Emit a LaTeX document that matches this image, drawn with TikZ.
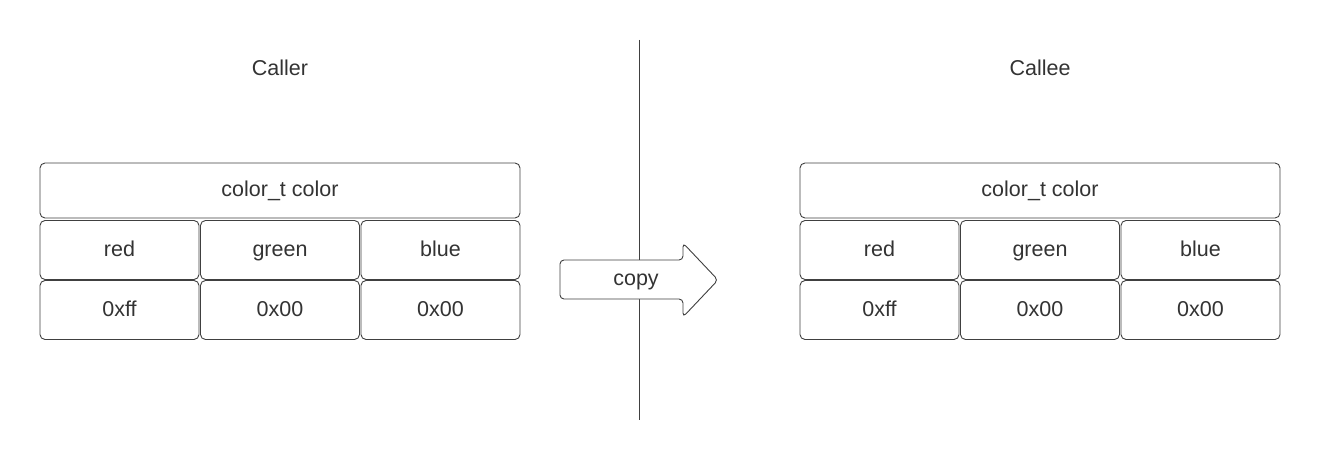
\documentclass[tikz,border=0pt]{standalone}
\usepackage{fontspec}
\setmainfont{Liberation Sans}
\begin{document}
\begin{tikzpicture}[x=1pt,y=-1pt,
  ln/.style={draw=black!75,line width=0.9pt},
  txt/.style={font=\fontsize{21.5}{26}\selectfont,text=black!80,text height=16pt,text depth=4pt},
  cell/.style={ln,txt,rounded corners=5pt,fill=white,inner sep=0pt},
  ttl/.style={txt,inner sep=0pt}]
\useasboundingbox (0,0) rectangle (1320,460);
\coordinate (ltop) at (639,40);
\coordinate (lbot) at (639,420);
\draw[ln] (ltop) -- (lbot);
% arrow
\draw[ln,fill=white,rounded corners=4pt] (560,260) -- (683,260) -- (683,243) -- (718,280) -- (683,317) -- (683,299) -- (560,299) -- cycle;
\node[ttl] (copy) at (636,279) {copy};
\node[ttl] (caller) at (280,70) {Caller};
\node[ttl] (callee) at (1040,70) {Callee};
\foreach \ox/\nm in {0/L,760/R}{
  \begin{scope}[xshift=\ox]
  \node[cell,minimum width=480,minimum height=55] (\nm top) at (280,190.5) {color\_t color};
  \node[cell,minimum width=159,minimum height=59] (\nm a) at (119.5,250) {red};
  \node[cell,minimum width=159,minimum height=59] (\nm b) at (280,250) {green};
  \node[cell,minimum width=159,minimum height=59] (\nm c) at (440.5,250) {blue};
  \node[cell,minimum width=159,minimum height=59] (\nm d) at (119.5,310) {0xff};
  \node[cell,minimum width=159,minimum height=59] (\nm e) at (280,310) {0x00};
  \node[cell,minimum width=159,minimum height=59] (\nm f) at (440.5,310) {0x00};
  \end{scope}
}
\end{tikzpicture}
\end{document}
